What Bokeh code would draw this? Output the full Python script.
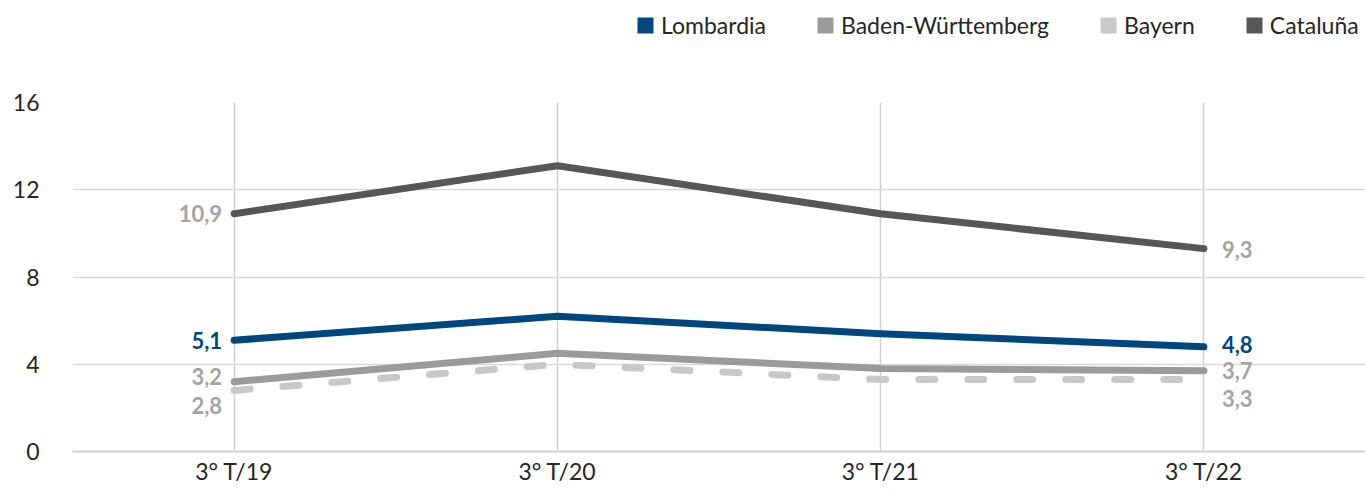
from bokeh.plotting import figure
from bokeh.layouts import column
from bokeh.models import FactorRange, Range1d, FixedTicker, Legend, LegendItem
from bokeh.embed import file_html
from bokeh.resources import INLINE
from bokeh.core.properties import value

quarters = ["3° T/19", "3° T/20", "3° T/21", "3° T/22"]
lombardia = [5.1, 6.2, 5.4, 4.8]
baden = [3.2, 4.5, 3.8, 3.7]
bayern = [2.8, 4.0, 3.3, 3.3]
cataluna = [10.9, 13.1, 10.9, 9.3]
y_ticks = [0, 4, 8, 12, 16]
names = ["Lombardia", "Baden-Württemberg", "Bayern", "Cataluña"]

FONT = "Lato"
C_LOM = "#00477f"
C_BAD = "#9b9b9b"
C_BAY = "#c8c8c8"
C_CAT = "#575757"
C_LBL = "#a3a3a3"
colors = [C_LOM, C_BAD, C_BAY, C_CAT]
all_series = [lombardia, baden, bayern, cataluna]

# ---- legend strip ----
lg = figure(x_range=FactorRange(*quarters), y_range=Range1d(0, 16),
            width=1365, height=60, output_backend="svg", toolbar_location=None,
            min_border_left=0, min_border_right=0, min_border_top=0, min_border_bottom=0)
lg.axis.visible = False
lg.grid.visible = False
lg.outline_line_color = None
items = []
for n, c, s in zip(names, colors, all_series):
    r = lg.vbar(x=quarters, top=s, width=0.5, fill_color=c, line_color=None, visible=False)
    items.append(LegendItem(label=n, renderers=[r]))
legend = Legend(items=items, orientation="horizontal", location=(563, 21),
                border_line_color=None, background_fill_alpha=0, padding=0, margin=0,
                spacing=49, label_standoff=6, glyph_width=20, glyph_height=20,
                label_text_font=FONT, label_text_font_size="23px", label_height=22,
                label_text_color="#262626")
lg.add_layout(legend)

# ---- main chart ----
p = figure(x_range=FactorRange(*quarters), y_range=Range1d(0, 16),
           width=1365, height=430, output_backend="svg", toolbar_location=None,
           min_border_left=72, min_border_right=0, min_border_top=42, min_border_bottom=39)
p.outline_line_color = None
p.background_fill_color = "white"

p.yaxis.ticker = FixedTicker(ticks=y_ticks)
p.yaxis.axis_line_color = None
p.yaxis.major_tick_line_color = None
p.yaxis.minor_tick_line_color = None
p.yaxis.major_tick_out = 0
p.yaxis.major_label_standoff = 33
p.yaxis.major_label_text_font = FONT
p.yaxis.major_label_text_font_size = "23px"
p.yaxis.major_label_text_color = "#262626"

p.xaxis.axis_line_color = "#d0d0d0"
p.xaxis.axis_line_width = 2
p.xaxis.major_tick_line_color = None
p.xaxis.minor_tick_line_color = None
p.xaxis.major_tick_out = 0
p.xaxis.major_label_standoff = 5
p.xaxis.major_label_text_font = FONT
p.xaxis.major_label_text_font_size = "23px"
p.xaxis.major_label_text_color = "#262626"

p.ygrid.grid_line_color = "#d9d9d9"
p.ygrid.grid_line_width = 1.5
p.xgrid.grid_line_color = "#d0d0d0"
p.xgrid.grid_line_width = 1.5

p.line(quarters, bayern, line_color=C_BAY, line_width=7, line_dash="16 33", line_cap="round")
p.line(quarters, baden, line_color=C_BAD, line_width=7, line_cap="round", line_join="round")
p.line(quarters, lombardia, line_color=C_LOM, line_width=7, line_cap="round", line_join="round")
p.line(quarters, cataluna, line_color=C_CAT, line_width=7, line_cap="round", line_join="round")

def fmt(v):
    return f"{v:.1f}".replace(".", ",")

series = [
    (cataluna, C_LBL, 0, 1),
    (lombardia, C_LOM, 0, -2),
    (baden, C_LBL, -5, 0),
    (bayern, C_LBL, 15, 19),
]
for vals, col, off_l, off_r in series:
    p.text(x=[quarters[0]], y=[vals[0]], text=[fmt(vals[0])], text_align="right",
           text_baseline="middle", x_offset=-12, y_offset=off_l, text_color=col,
           text_font=value(FONT), text_font_size="22px", text_font_style="bold")
    p.text(x=[quarters[-1]], y=[vals[-1]], text=[fmt(vals[-1])], text_align="left",
           text_baseline="middle", x_offset=18, y_offset=off_r, text_color=col,
           text_font=value(FONT), text_font_size="22px", text_font_style="bold")

layout = column(lg, p, spacing=0)
open("out.html", "w").write(file_html(layout, INLINE))
